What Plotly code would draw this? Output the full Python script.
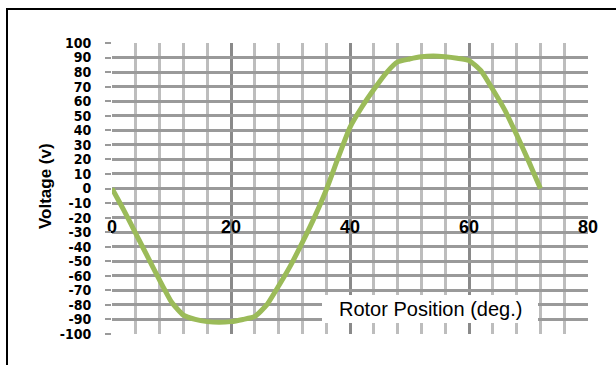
import plotly.graph_objects as go

# Rotor position (degrees) and induced voltage (V)
rotor_deg = [0, 2, 4, 6, 8, 10, 12, 14, 16, 18, 20, 22, 24, 26, 28, 30, 32, 34, 36,
             38, 40, 42, 44, 46, 48, 50, 52, 54, 56, 58, 60, 62, 64, 66, 68, 70, 72]
voltage = [0, -15, -31, -47, -63, -78, -87, -90, -91.5, -92, -91.5, -90, -88, -80,
           -67, -53, -37, -20, -1, 21, 42, 56, 68, 79, 87, 89, 90.5, 91, 90.5, 89.5,
           88, 81, 68, 54, 37, 19, 0]

x_ticks = [0, 20, 40, 60, 80]
y_ticks = list(range(-100, 101, 10))

W, H = 616, 365
L, R, T, B = 112, 28, 43, 31
plot_w, plot_h = W - L - R, H - T - B


def px_x(px):
    return (px - L) / plot_w


def px_y(py):
    return (H - B - py) / plot_h


fig = go.Figure()
fig.add_trace(go.Scatter(
    x=rotor_deg, y=voltage, mode="lines",
    line=dict(color="#9BBB59", width=5, shape="spline", smoothing=0.5),
    showlegend=False, hoverinfo="skip",
))

fig.update_layout(
    width=W, height=H,
    margin=dict(l=L, r=R, t=T, b=B, pad=0),
    paper_bgcolor="white", plot_bgcolor="white",
    xaxis=dict(
        range=[0, 80], tickvals=x_ticks, ticktext=[str(v) for v in x_ticks],
        anchor="free", position=px_y(214),
        showline=False, zeroline=False, ticks="",
        showgrid=True, gridcolor="#8a8a8a", gridwidth=2.5,
        minor=dict(dtick=4, tick0=0, showgrid=True, gridcolor="#bdbdbd", gridwidth=2.5, ticks=""),
        tickfont=dict(family="Liberation Sans, Arial", size=18, color="black", weight="bold"),
        fixedrange=True,
    ),
    yaxis=dict(
        range=[-100, 100], tickvals=y_ticks, ticktext=[str(v) for v in y_ticks],
        showline=False, zeroline=False,
        ticks="outside", ticklen=6, tickwidth=2, tickcolor="#9a9a9a",
        ticklabelstandoff=11,
        showgrid=True, gridcolor="#9a9a9a", gridwidth=2.5,
        tickfont=dict(family="DejaVu Sans Condensed, Liberation Sans Narrow",
                      size=14, color="black", weight="bold"),
        fixedrange=True,
    ),
    shapes=[
        # outer chart frame
        dict(type="rect", xref="paper", yref="paper",
             x0=px_x(7), x1=px_x(640), y0=px_y(390), y1=px_y(9),
             line=dict(color="black", width=2), fillcolor="rgba(0,0,0,0)", layer="above"),
        # white box behind the x-axis title
        dict(type="rect", xref="paper", yref="paper",
             x0=px_x(322), x1=px_x(538), y0=px_y(323), y1=px_y(295),
             line=dict(width=0), fillcolor="white", layer="above"),
    ],
    annotations=[
        dict(text="Rotor Position (deg.)", xref="paper", yref="paper",
             x=px_x(430), y=px_y(309), xanchor="center", yanchor="middle",
             showarrow=False,
             font=dict(family="Liberation Sans, Arial", size=20, color="black")),
        dict(text="<b>Voltage (v)</b>", xref="paper", yref="paper",
             x=px_x(45), y=px_y(186), xanchor="center", yanchor="middle",
             textangle=-90, showarrow=False,
             font=dict(family="Liberation Sans, Arial", size=17, color="black")),
    ],
)

fig.write_html("out.html")
